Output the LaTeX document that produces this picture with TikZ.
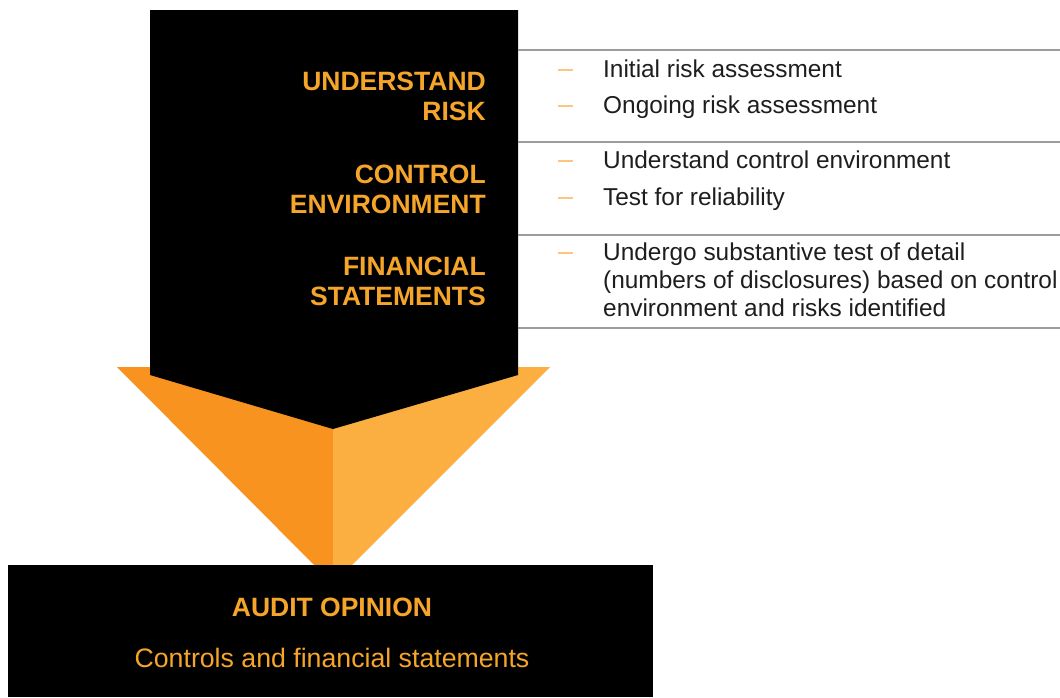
\documentclass[tikz,border=0pt]{standalone}
\usepackage{fontspec}
\setmainfont{Liberation Sans}
\definecolor{gold}{HTML}{F6A52B}
\definecolor{orangedark}{HTML}{F7931E}
\definecolor{orangelight}{HTML}{FBAF41}
\definecolor{dashcol}{HTML}{FDC67E}
\definecolor{rulecol}{HTML}{9C9C9C}
\definecolor{bodytext}{HTML}{1E1E1E}
\begin{document}
\begin{tikzpicture}[x=1pt,y=-1pt,
  label/.style={anchor=base east,inner sep=0pt,text=gold,font=\fontsize{26.5}{30}\selectfont\bfseries},
  item/.style={anchor=base west,inner sep=0pt,text=bodytext,font=\fontsize{24.4}{28}\selectfont},
  bullet/.style={draw=dashcol,line width=2.2pt},
  rule/.style={draw=rulecol,line width=2.4pt},
  bottomtext/.style={anchor=base,inner sep=0pt,text=gold}]
\useasboundingbox (0,0) rectangle (1060,697);
\fill[white] (0,0) rectangle (1060,697);

% orange arrow head, two shaded halves
\fill[orangedark] (117,367) -- (333,367) -- (333,584) -- cycle;
\fill[orangelight] (333,367) -- (550,367) -- (333,584) -- cycle;

% black arrow shaft with pointed bottom
\fill[black] (150,10) -- (518,10) -- (518,375) -- (333,429) -- (150,375) -- cycle;

% separators on the right
\coordinate (r0a) at (518,50);  \coordinate (r0b) at (1060,50);
\coordinate (r1a) at (518,142); \coordinate (r1b) at (1060,142);
\coordinate (r2a) at (518,235); \coordinate (r2b) at (1060,235);
\coordinate (r3a) at (518,328); \coordinate (r3b) at (1060,328);
\draw[rule] (r0a) -- (r0b);
\draw[rule] (r1a) -- (r1b);
\draw[rule] (r2a) -- (r2b);
\draw[rule] (r3a) -- (r3b);

% stage labels
\node[label] (l1a) at (486,90)  {UNDERSTAND};
\node[label] (l1b) at (486,120) {RISK};
\node[label] (l2a) at (486,183) {CONTROL};
\node[label] (l2b) at (486,213) {ENVIRONMENT};
\node[label] (l3a) at (486,275) {FINANCIAL};
\node[label] (l3b) at (486,305) {STATEMENTS};

% bullet dashes
\foreach \y/\n in {70/b1,106/b2,161/b3,198/b4,253/b5}{
  \coordinate (\n s) at (558,\y);
  \coordinate (\n e) at (573,\y);
  \draw[bullet] (\n s) -- (\n e);
}

% items
\node[item] (t1) at (603,77)  {Initial risk assessment};
\node[item] (t2) at (603,113) {Ongoing risk assessment};
\node[item] (t3) at (603,168) {Understand control environment};
\node[item] (t4) at (603,205) {Test for reliability};
\node[item] (t5) at (603,260) {Undergo substantive test of detail};
\node[item] (t6) at (603,288) {(numbers of disclosures) based on control};
\node[item] (t7) at (603,316) {environment and risks identified};

% result box
\fill[black] (8,565) rectangle (653,697);
\node[bottomtext,font=\fontsize{26.5}{30}\selectfont\bfseries] (op) at (332,616) {AUDIT OPINION};
\node[bottomtext,font=\fontsize{26.7}{30}\selectfont] (cf) at (332,667) {Controls and financial statements};
\end{tikzpicture}
\end{document}
